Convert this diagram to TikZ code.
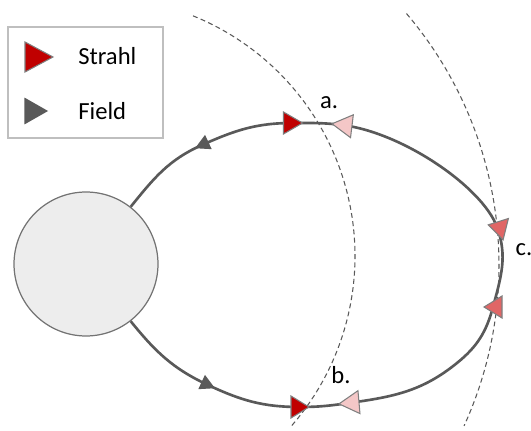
\documentclass[tikz,border=0pt]{standalone}
\usepackage{fontspec}
\setmainfont{Carlito}
\definecolor{linegray}{HTML}{595959}
\definecolor{edgegray}{HTML}{7F7F7F}
\definecolor{strahlred}{HTML}{C00000}
\definecolor{strahlpink}{HTML}{F4C7C7}
\definecolor{strahlmid}{HTML}{E06666}
\tikzset{
  tri/.pic={\filldraw[pic actions] (-0.5,-0.5) -- (0.5,0) -- (-0.5,0.5) -- cycle;},
  strahl/.style={fill=strahlred,draw=edgegray,line width=0.6pt},
  strahlpale/.style={fill=strahlpink,draw=edgegray,line width=0.6pt},
  strahlc/.style={fill=strahlmid,draw=edgegray,line width=0.6pt},
  field/.style={fill=linegray,draw=linegray,line width=0.6pt},
  planet/.style={circle,fill=black!7,draw=black!55,line width=0.7pt,minimum size=2.88cm,inner sep=0pt},
  orbit/.style={draw=linegray,line width=0.6pt,dash pattern=on 2.8pt off 1.9pt},
  loopline/.style={draw=linegray,line width=1.5pt},
  legendbox/.style={draw=black!25,line width=0.8pt},
  tag/.style={inner sep=0pt}
}
\begin{document}
\begin{tikzpicture}[x=0.02cm,y=0.02cm,font=\fontsize{14}{16}\selectfont]
\useasboundingbox (0,0) rectangle (531,430);
% legend
\draw[legendbox] (8,292) rectangle (163,403);
\pic[strahl,xscale=28,yscale=30] at (39,373) {tri};
\pic[field,xscale=22,yscale=25] at (36,319) {tri};
\node[tag,anchor=west] (lstrahl) at (78,374) {Strahl};
\node[tag,anchor=west] (lfield) at (78,319) {Field};
% planet and dashed circles
\node[planet] (earth) at (86,166) {};
\coordinate (inner) at (96,174);
\coordinate (outer) at (111,165);
\draw[orbit] (inner) ++(68:259) arc[start angle=68,end angle=-41,radius=259];
\draw[orbit] (outer) ++(40.4:388) arc[start angle=40.4,end angle=-24.5,radius=388];
% spots on the loop
\coordinate (fa) at (202,285);
\coordinate (ra) at (293,307);
\coordinate (pa) at (342,305);
\coordinate (ca) at (497,203);
\coordinate (cb) at (493,123);
\coordinate (ub) at (457,67);
\coordinate (pb) at (349,27);
\coordinate (rb) at (300,23);
\coordinate (fb) at (208,45);
\draw[loopline] (earth.52) to[out=51,in=204] (fa) to[out=24,in=180] (ra)
  to[out=0,in=173] (pa) .. controls +(-7:61.5) and +(110:42) .. (ca)
  to[out=-70,in=75] (cb) to[out=-105,in=39] (ub) to[out=219,in=8] (pb)
  to[out=188,in=0] (rb) to[out=180,in=-25] (fb) to[out=155,in=-51] (earth.-52);
% arrow heads
\pic[field,rotate=205,xscale=13,yscale=14] at (fa) {tri};
\pic[field,rotate=-25,xscale=13,yscale=14] at (fb) {tri};
\pic[strahl,xscale=19,yscale=22] at (ra) {tri};
\pic[strahl,xscale=18,yscale=22] at (rb) {tri};
\pic[strahlpale,rotate=173,xscale=20,yscale=23] at (pa) {tri};
\pic[strahlpale,rotate=185,xscale=20,yscale=23] at (pb) {tri};
\pic[strahlc,rotate=166,xscale=18,yscale=22] at (ca) {tri};
\pic[strahlc,rotate=180,xscale=18,yscale=22] at (cb) {tri};
% labels
\node[tag] (la) at (329,327) {a.};
\node[tag] (lb) at (341,55) {b.};
\node[tag] (lc) at (524,180) {c.};
\end{tikzpicture}
\end{document}
